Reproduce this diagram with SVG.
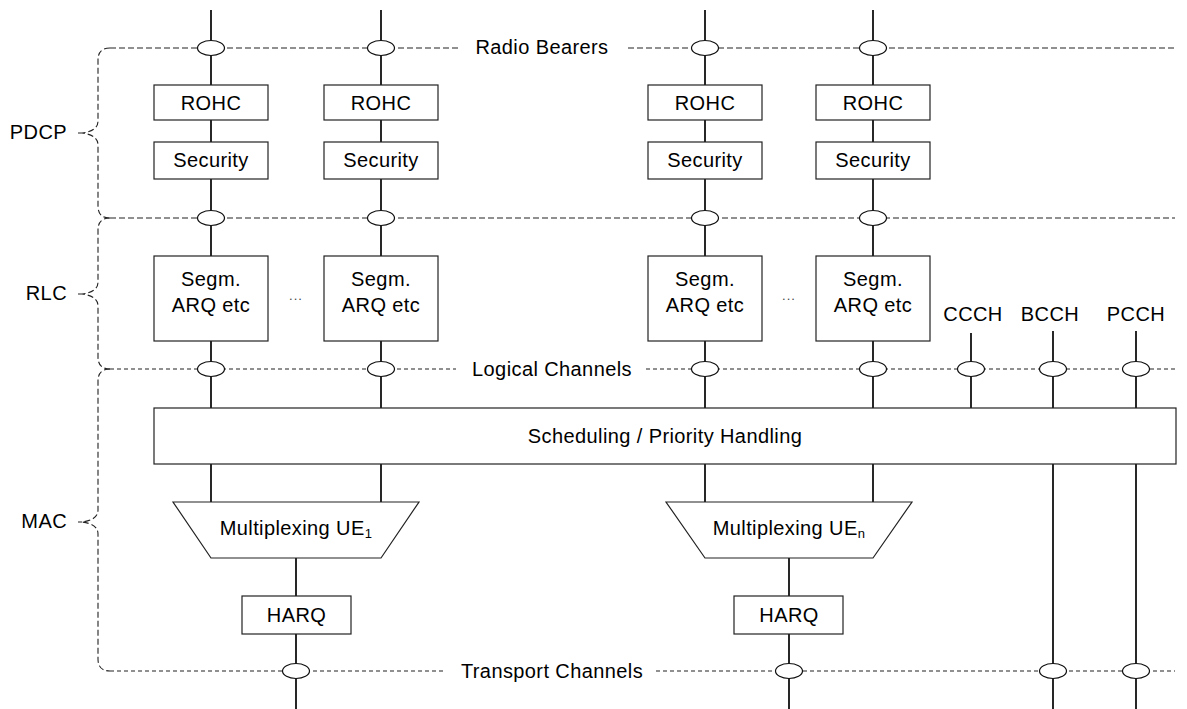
<svg xmlns="http://www.w3.org/2000/svg" width="1187" height="709" viewBox="0 0 1187 709">
<style>
text{font-family:"Liberation Sans",Arial,sans-serif;font-size:20px;fill:#000;letter-spacing:0.4px}
.c{text-anchor:middle}
.e{text-anchor:end}
.box{fill:#fff;stroke:#222;stroke-width:1.2}
.ln{stroke:#111;stroke-width:1.8;fill:none}
.d1{stroke:#222;stroke-width:1.1;fill:none;stroke-dasharray:6 3}
.d2{stroke:#222;stroke-width:1.1;fill:none;stroke-dasharray:4 3}
.ov{fill:#fff;stroke:#111;stroke-width:1.2}
.dots{font-size:13px;letter-spacing:1px;fill:#444}
</style>
<rect width="1187" height="709" fill="#fff"/>
<g id="layer-lines">
<path class="d1" d="M110,48 H459 M628,48 H1175"/>
<path class="d1" d="M110,218 H1175"/>
<path class="d2" d="M110,369 H456 M646,369 H1175"/>
<path class="d2" d="M110,671 H446 M656,671 H1175"/>
<path class="d1" d="M110,48 Q98,48 98,60 V121 Q98,131 82,133 Q98,135 98,145 V206 Q98,218 110,218 M82,133 H78"/>
<path class="d1" d="M110,218 Q98,218 98,230 V282 Q98,292 82,294 Q98,296 98,306 V357 Q98,369 110,369 M82,294 H78"/>
<path class="d1" d="M110,369 Q98,369 98,381 V510 Q98,520 82,522 Q98,524 98,534 V659 Q98,671 110,671 M82,522 H78"/>
</g>
<g id="connectors">
<path class="ln" d="M211,10 V85 M211,120 V142 M211,179 V256 M211,341 V408 M211,464 V502"/>
<path class="ln" d="M381,10 V85 M381,120 V142 M381,179 V256 M381,341 V408 M381,464 V502"/>
<path class="ln" d="M705,10 V85 M705,120 V142 M705,179 V256 M705,341 V408 M705,464 V502"/>
<path class="ln" d="M873,10 V85 M873,120 V142 M873,179 V256 M873,341 V408 M873,464 V502"/>
<path class="ln" d="M296,558 V596 M296,634 V709"/>
<path class="ln" d="M789,558 V596 M789,634 V709"/>
<path class="ln" d="M971,333 V408"/>
<path class="ln" d="M1053,331 V408 M1053,464 V709"/>
<path class="ln" d="M1136,331 V408 M1136,464 V709"/>
</g>
<g id="ellipses">
<ellipse class="ov" cx="211" cy="48" rx="13.5" ry="7.5"/>
<ellipse class="ov" cx="381" cy="48" rx="13.5" ry="7.5"/>
<ellipse class="ov" cx="705" cy="48" rx="13.5" ry="7.5"/>
<ellipse class="ov" cx="873" cy="48" rx="13.5" ry="7.5"/>
<ellipse class="ov" cx="211" cy="218" rx="13.5" ry="7.5"/>
<ellipse class="ov" cx="381" cy="218" rx="13.5" ry="7.5"/>
<ellipse class="ov" cx="705" cy="218" rx="13.5" ry="7.5"/>
<ellipse class="ov" cx="873" cy="218" rx="13.5" ry="7.5"/>
<ellipse class="ov" cx="211" cy="369" rx="13.5" ry="7.5"/>
<ellipse class="ov" cx="381" cy="369" rx="13.5" ry="7.5"/>
<ellipse class="ov" cx="705" cy="369" rx="13.5" ry="7.5"/>
<ellipse class="ov" cx="873" cy="369" rx="13.5" ry="7.5"/>
<ellipse class="ov" cx="971" cy="369" rx="13.5" ry="7.5"/>
<ellipse class="ov" cx="1053" cy="369" rx="13.5" ry="7.5"/>
<ellipse class="ov" cx="1136" cy="369" rx="13.5" ry="7.5"/>
<ellipse class="ov" cx="296" cy="671" rx="13.5" ry="7.5"/>
<ellipse class="ov" cx="789" cy="671" rx="13.5" ry="7.5"/>
<ellipse class="ov" cx="1053" cy="671" rx="13.5" ry="7.5"/>
<ellipse class="ov" cx="1136" cy="671" rx="13.5" ry="7.5"/>
</g>
<g id="labels">
<text class="c" x="542" y="54">Radio Bearers</text>
<text class="c" x="552" y="376">Logical Channels</text>
<text class="c" x="552" y="678">Transport Channels</text>
<text class="e" x="67" y="139">PDCP</text>
<text class="e" x="67" y="300">RLC</text>
<text class="e" x="67" y="528">MAC</text>
<text class="c" x="973" y="321">CCCH</text>
<text class="c" x="1050" y="321">BCCH</text>
<text class="c" x="1136" y="321">PCCH</text>
<text class="c dots" x="296" y="300">...</text>
<text class="c dots" x="789" y="300">...</text>
</g>
<g id="rohc1"><rect class="box" x="154" y="85" width="114" height="35"/><text class="c" x="211" y="109.5">ROHC</text></g>
<g id="rohc2"><rect class="box" x="324" y="85" width="114" height="35"/><text class="c" x="381" y="109.5">ROHC</text></g>
<g id="rohc3"><rect class="box" x="648" y="85" width="114" height="35"/><text class="c" x="705" y="109.5">ROHC</text></g>
<g id="rohc4"><rect class="box" x="816" y="85" width="114" height="35"/><text class="c" x="873" y="109.5">ROHC</text></g>
<g id="sec1"><rect class="box" x="154" y="142" width="114" height="37"/><text class="c" x="211" y="167">Security</text></g>
<g id="sec2"><rect class="box" x="324" y="142" width="114" height="37"/><text class="c" x="381" y="167">Security</text></g>
<g id="sec3"><rect class="box" x="648" y="142" width="114" height="37"/><text class="c" x="705" y="167">Security</text></g>
<g id="sec4"><rect class="box" x="816" y="142" width="114" height="37"/><text class="c" x="873" y="167">Security</text></g>
<g id="segm1"><rect class="box" x="154" y="256" width="114" height="85"/><text class="c" x="211" y="286">Segm.</text><text class="c" x="211" y="312">ARQ etc</text></g>
<g id="segm2"><rect class="box" x="324" y="256" width="114" height="85"/><text class="c" x="381" y="286">Segm.</text><text class="c" x="381" y="312">ARQ etc</text></g>
<g id="segm3"><rect class="box" x="648" y="256" width="114" height="85"/><text class="c" x="705" y="286">Segm.</text><text class="c" x="705" y="312">ARQ etc</text></g>
<g id="segm4"><rect class="box" x="816" y="256" width="114" height="85"/><text class="c" x="873" y="286">Segm.</text><text class="c" x="873" y="312">ARQ etc</text></g>
<g id="scheduling"><rect class="box" x="154" y="408" width="1022" height="56"/><text class="c" x="665" y="443">Scheduling / Priority Handling</text></g>
<g id="mux1"><polygon class="box" points="173,502 419,502 381,558 211,558"/><text class="c" x="296" y="535">Multiplexing UE<tspan font-size="13" dy="3">1</tspan></text></g>
<g id="muxn"><polygon class="box" points="666,502 912,502 873,558 705,558"/><text class="c" x="789" y="535">Multiplexing UE<tspan font-size="13" dy="3">n</tspan></text></g>
<g id="harq1"><rect class="box" x="242" y="596" width="109" height="38"/><text class="c" x="296.5" y="622">HARQ</text></g>
<g id="harqn"><rect class="box" x="734" y="596" width="109" height="38"/><text class="c" x="789" y="622">HARQ</text></g>
</svg>
